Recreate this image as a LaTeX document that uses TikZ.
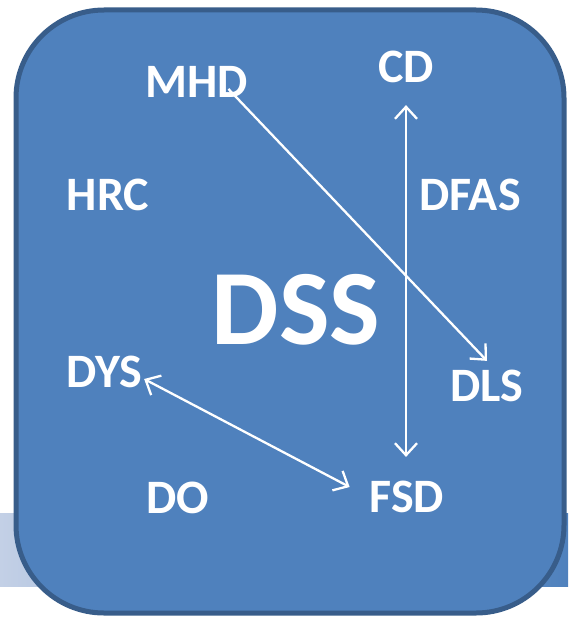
\documentclass[tikz,border=0pt]{standalone}
\usepackage{fontspec}
\setmainfont{Carlito}
\usepackage{tikz}
\usetikzlibrary{arrows.meta, positioning}
\usepackage{xcolor}
\definecolor{boxfill}{HTML}{4F81BD}
\definecolor{boxline}{HTML}{385D8A}
\definecolor{bandleft}{HTML}{C3D0E6}

\begin{document}
\begin{tikzpicture}[
  x=1pt, y=-1pt,
  lbl/.style={text=white, inner sep=0pt, font=\fontsize{48}{52}\selectfont\bfseries},
  big/.style={text=white, inner sep=0pt, font=\fontsize{107}{116}\selectfont\bfseries},
  arr/.style={-{Straight Barb[length=12pt, width=22pt]}, draw=white, line width=2.3pt},
  dbl/.style={{Straight Barb[length=12pt, width=22pt]}-{Straight Barb[length=12pt, width=22pt]}, draw=white, line width=2.3pt}
]
\useasboundingbox (0,0) rectangle (568,618);
\shade[left color=bandleft, right color=boxfill] (0,513) rectangle (568,586);
\draw[boxline, fill=boxfill, line width=5pt, rounded corners=88pt] (16,10) rectangle (564,613);
\node[big] (dss) at (296,310) {DSS};
\node[lbl] (mhd) at (197,82) {MHD};
\node[lbl] (cd) at (406,67) {CD};
\node[lbl] (hrc) at (108,195) {HRC};
\node[lbl] (dfas) at (470,195) {DFAS};
\node[lbl] (dys) at (104,372) {DYS};
\node[lbl] (dls) at (487,386) {DLS};
\node[lbl] (do) at (178,498) {DO};
\node[lbl] (fsd) at (407,497) {FSD};
\draw[arr] ([xshift=-20pt, yshift=-7pt]mhd.east) -- ([yshift=9pt]dls.north);
\draw[dbl] ([yshift=-22pt]cd.south) -- ([yshift=24pt]cd.south |- fsd.north);
\draw[dbl] ([xshift=2pt, yshift=-7pt]dys.east) -- ([xshift=-20pt, yshift=10pt]fsd.west);
\end{tikzpicture}
\end{document}
